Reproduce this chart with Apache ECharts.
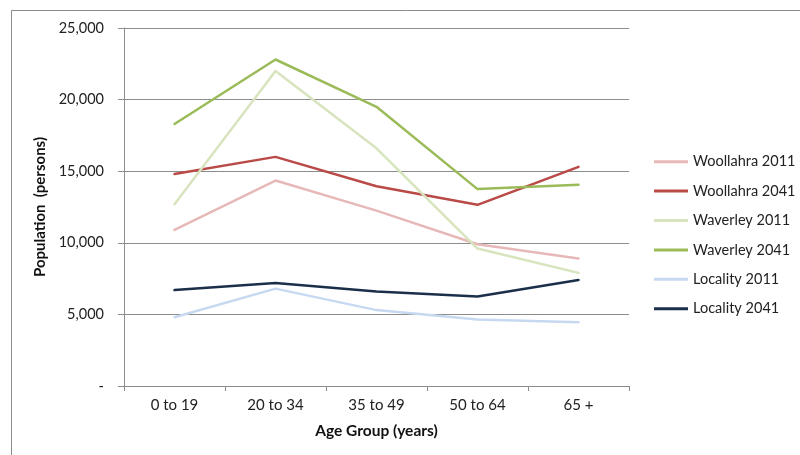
<!DOCTYPE html>
<html>
<head>
<meta charset="utf-8">
<script src="https://cdn.jsdelivr.net/npm/echarts@6/dist/echarts.min.js"></script>
<style>
  html, body { margin: 0; padding: 0; background: #fff; }
  #chart { width: 800px; height: 455px; }
</style>
</head>
<body>
<div id="chart"></div>
<script>
// Age groups on the x axis
const ageGroups = ['0 to 19', '20 to 34', '35 to 49', '50 to 64', '65 +'];

// Population (persons) per age group
const woollahra2011 = [10900, 14350, 12250, 9900, 8900];
const woollahra2041 = [14800, 16000, 13950, 12650, 15300];
const waverley2011 = [12700, 22000, 16600, 9600, 7900];
const waverley2041 = [18300, 22800, 19500, 13750, 14050];
const locality2011 = [4800, 6800, 5300, 4650, 4450];
const locality2041 = [6700, 7200, 6600, 6250, 7400];

// Value axis settings
const yMin = 0;
const yMax = 25000;
const yStep = 5000;

const seriesDefs = [
  { name: 'Woollahra 2011', data: woollahra2011, color: '#E6B9B8' },
  { name: 'Woollahra 2041', data: woollahra2041, color: '#B94A47' },
  { name: 'Waverley 2011', data: waverley2011, color: '#D7E4BD' },
  { name: 'Waverley 2041', data: waverley2041, color: '#9BBB59' },
  { name: 'Locality 2011', data: locality2011, color: '#C6D9F1' },
  { name: 'Locality 2041', data: locality2041, color: '#1B2F4B' }
];

const font = 'Lato, "Open Sans", "Liberation Sans", sans-serif';
const gridColor = '#8C8C8C';

const chart = echarts.init(document.getElementById('chart'), null, { renderer: 'canvas' });

chart.setOption({
  animation: false,
  backgroundColor: '#ffffff',
  textStyle: { fontFamily: font },
  graphic: [{
    type: 'rect',
    shape: { x: 11.5, y: 10.5, width: 1200, height: 1200 },
    style: { fill: 'none', stroke: '#8C8C8C', lineWidth: 1 },
    silent: true
  }],
  grid: { left: 124, right: 171, top: 28, bottom: 69, containLabel: false },
  legend: {
    orient: 'vertical',
    left: 654,
    top: 152.7,
    padding: 0,
    icon: 'rect',
    itemWidth: 34,
    itemHeight: 3,
    itemGap: 11.4,
    textStyle: { fontFamily: font, fontSize: 14.5, color: '#222', lineHeight: 18 },
    data: seriesDefs.map(s => s.name)
  },
  xAxis: {
    type: 'category',
    data: ageGroups,
    boundaryGap: true,
    name: 'Age Group (years)',
    nameLocation: 'middle',
    nameGap: 37,
    nameTextStyle: { fontFamily: font, fontSize: 15.5, fontWeight: 'bold', color: '#111' },
    axisLine: { lineStyle: { color: gridColor, width: 1 } },
    axisTick: { show: true, alignWithLabel: false, length: 5, lineStyle: { color: gridColor } },
    axisLabel: { fontFamily: font, fontSize: 15, color: '#222', margin: 12 },
    splitLine: { show: false }
  },
  yAxis: {
    type: 'value',
    min: yMin,
    max: yMax,
    interval: yStep,
    name: 'Population  (persons)',
    nameLocation: 'middle',
    nameGap: 75,
    nameRotate: 90,
    nameTextStyle: { fontFamily: font, fontSize: 15, fontWeight: 'bold', color: '#111' },
    axisLine: { show: true, lineStyle: { color: gridColor, width: 1 } },
    axisTick: { show: true, length: 6, lineStyle: { color: gridColor } },
    axisLabel: {
      fontFamily: font, fontSize: 14.5, color: '#222', margin: 20,
      formatter: v => v === 0 ? '-' : v.toLocaleString('en-US')
    },
    splitLine: { show: true, lineStyle: { color: gridColor, width: 1 } }
  },
  series: seriesDefs.map(s => ({
    name: s.name,
    type: 'line',
    data: s.data,
    symbol: 'none',
    smooth: false,
    color: s.color,
    lineStyle: { color: s.color, width: 2.5, join: 'round', cap: 'round' },
    emphasis: { disabled: true }
  }))
});
</script>
</body>
</html>
